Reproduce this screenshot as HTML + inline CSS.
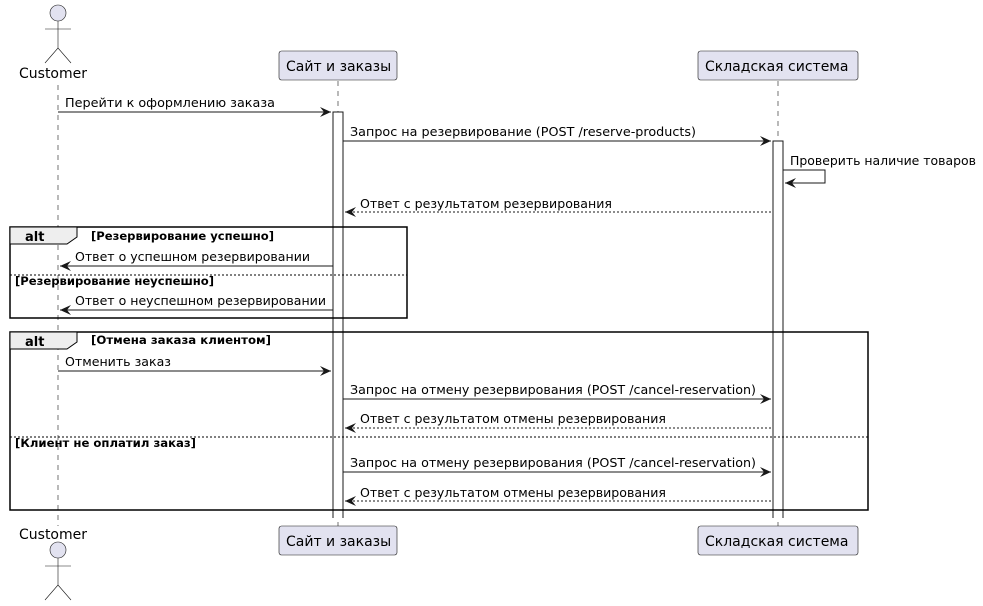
<!DOCTYPE html>
<html><head><meta charset="utf-8"><style>
html,body{margin:0;padding:0;background:#fff;}
svg{display:block;}
text{font-family:"DejaVu Sans","Liberation Sans",sans-serif;fill:#000;}
.m{font-size:12.6px;}
.g{font-size:11.4px;font-weight:bold;}
.p{font-size:14px;}
</style></head><body>
<svg width="983" height="606" viewBox="0 0 983 606" xmlns="http://www.w3.org/2000/svg">
<defs>
<marker id="a" markerWidth="12" markerHeight="10" refX="11" refY="5" orient="auto" markerUnits="userSpaceOnUse">
<path d="M0,0 L11,5 L0,10 L4,5 Z" fill="#181818"/></marker>
<marker id="o" markerWidth="12" markerHeight="10" refX="11" refY="5" orient="auto" markerUnits="userSpaceOnUse">
<path d="M0,0 L11,5 L0,10 L4,5 Z" fill="#181818"/></marker>
</defs>
<g stroke="#181818" stroke-width="0.6" stroke-dasharray="5,5">
<line x1="58" y1="85" x2="58" y2="526"/>
<line x1="338" y1="81" x2="338" y2="526"/>
<line x1="778" y1="81" x2="778" y2="526"/>
</g>
<rect x="333" y="112" width="10" height="410" fill="#fff" stroke="none"/>
<rect x="773" y="141" width="10" height="381" fill="#fff" stroke="none"/>
<path d="M333,518 V112 H343 V518 M773,518 V141 H783 V518" fill="none" stroke="#181818"/>
<g fill="#E2E2F0" stroke="#181818" stroke-width="0.6">
<rect x="279" y="51" width="118" height="29" rx="2.5"/>
<rect x="698" y="51" width="160" height="29" rx="2.5"/>
<rect x="279" y="526" width="118" height="29" rx="2.5"/>
<rect x="698" y="526" width="160" height="29" rx="2.5"/>
</g>
<text class="p" x="286" y="71">Сайт и заказы</text>
<text class="p" x="705" y="71">Складская система</text>
<text class="p" x="286" y="546">Сайт и заказы</text>
<text class="p" x="705" y="546">Складская система</text>
<g stroke="#181818" stroke-width="0.6" fill="none">
<circle cx="58" cy="13" r="8" fill="#E2E2F0"/>
<path d="M58,21 V48 M45,29 H71 M45,63 L58,48 L71,63"/>
<circle cx="58" cy="550" r="8" fill="#E2E2F0"/>
<path d="M58,558 V585 M45,566 H71 M45,600 L58,585 L71,600"/>
</g>
<text class="p" x="19" y="78">Customer</text>
<text class="p" x="19" y="539">Customer</text>
<g stroke="#181818" stroke-width="1" fill="none">
<line x1="58" y1="112" x2="331" y2="112" marker-end="url(#a)"/>
<line x1="343" y1="141" x2="771" y2="141" marker-end="url(#a)"/>
<path d="M783,170 H825 V183 H785" marker-end="url(#o)"/>
<line x1="771" y1="212" x2="345" y2="212" stroke-dasharray="2,2" marker-end="url(#o)"/>
<line x1="333" y1="266" x2="60" y2="266" marker-end="url(#o)"/>
<line x1="333" y1="310" x2="60" y2="310" marker-end="url(#o)"/>
<line x1="58" y1="371" x2="331" y2="371" marker-end="url(#a)"/>
<line x1="343" y1="399" x2="771" y2="399" marker-end="url(#a)"/>
<line x1="771" y1="428" x2="345" y2="428" stroke-dasharray="2,2" marker-end="url(#o)"/>
<line x1="343" y1="472" x2="771" y2="472" marker-end="url(#a)"/>
<line x1="771" y1="501" x2="345" y2="501" stroke-dasharray="2,2" marker-end="url(#o)"/>
</g>
<text class="m" x="65" y="107" textLength="210" lengthAdjust="spacingAndGlyphs">Перейти к оформлению заказа</text>
<text class="m" x="350" y="136" textLength="346" lengthAdjust="spacingAndGlyphs">Запрос на резервирование (POST /reserve-products)</text>
<text class="m" x="790" y="165" textLength="186" lengthAdjust="spacingAndGlyphs">Проверить наличие товаров</text>
<text class="m" x="360" y="208" textLength="252" lengthAdjust="spacingAndGlyphs">Ответ с результатом резервирования</text>
<text class="m" x="75" y="261" textLength="235" lengthAdjust="spacingAndGlyphs">Ответ о успешном резервировании</text>
<text class="m" x="75" y="305" textLength="251" lengthAdjust="spacingAndGlyphs">Ответ о неуспешном резервировании</text>
<text class="m" x="65" y="366" textLength="106" lengthAdjust="spacingAndGlyphs">Отменить заказ</text>
<text class="m" x="350" y="394" textLength="406" lengthAdjust="spacingAndGlyphs">Запрос на отмену резервирования (POST /cancel-reservation)</text>
<text class="m" x="360" y="423" textLength="306" lengthAdjust="spacingAndGlyphs">Ответ с результатом отмены резервирования</text>
<text class="m" x="350" y="467" textLength="406" lengthAdjust="spacingAndGlyphs">Запрос на отмену резервирования (POST /cancel-reservation)</text>
<text class="m" x="360" y="497" textLength="306" lengthAdjust="spacingAndGlyphs">Ответ с результатом отмены резервирования</text>
<rect x="10" y="227" width="397" height="91" fill="none" stroke="#000" stroke-width="1.5"/>
<path d="M10,227 H77 V237 L67,244 H10 Z" fill="#EEEEEE" stroke="#000" stroke-width="1"/>
<text x="25" y="241" style="font-size:13px;font-weight:bold">alt</text>
<text class="g" x="91" y="240" textLength="183" lengthAdjust="spacingAndGlyphs">[Резервирование успешно]</text>
<line x1="10" y1="275" x2="407" y2="275" stroke="#000" stroke-width="1" stroke-dasharray="2,2"/>
<text class="g" x="15" y="285" textLength="199" lengthAdjust="spacingAndGlyphs">[Резервирование неуспешно]</text>
<rect x="10" y="332" width="858" height="178" fill="none" stroke="#000" stroke-width="1.5"/>
<path d="M10,332 H77 V342 L67,349 H10 Z" fill="#EEEEEE" stroke="#000" stroke-width="1"/>
<text x="25" y="346" style="font-size:13px;font-weight:bold">alt</text>
<text class="g" x="91" y="344" textLength="180" lengthAdjust="spacingAndGlyphs">[Отмена заказа клиентом]</text>
<line x1="10" y1="437" x2="868" y2="437" stroke="#000" stroke-width="1" stroke-dasharray="2,2"/>
<text class="g" x="15" y="447" textLength="181" lengthAdjust="spacingAndGlyphs">[Клиент не оплатил заказ]</text>
</svg>
</body></html>
